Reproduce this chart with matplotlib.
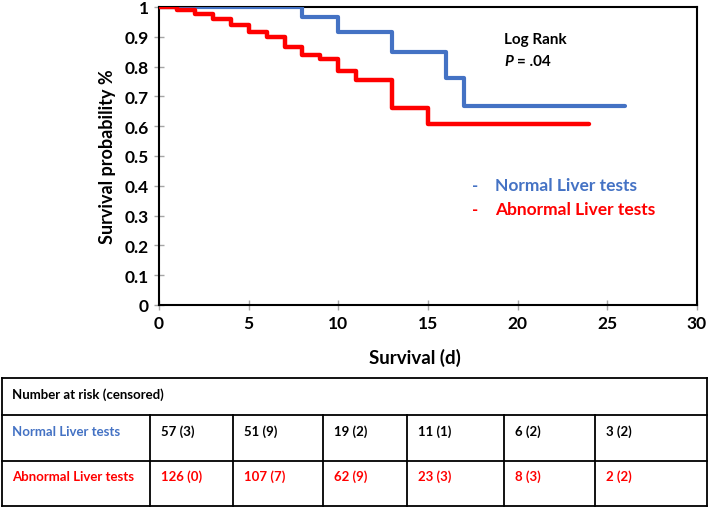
import matplotlib
matplotlib.use("Agg")
import matplotlib.pyplot as plt
from matplotlib.lines import Line2D

plt.rcParams['font.family'] = ['Lato', 'DejaVu Sans']
plt.rcParams['font.weight'] = 'bold'

# ---- data ----
normal_times = [0, 8, 10, 13, 16, 17, 26]
normal_surv = [1.0, 0.966, 0.916, 0.849, 0.762, 0.668, 0.668]
abnormal_times = [0, 1, 2, 3, 4, 5, 6, 7, 8, 9, 10, 11, 13, 15, 24]
abnormal_surv = [1.0, 0.99, 0.977, 0.96, 0.94, 0.917, 0.90, 0.867, 0.84,
                 0.826, 0.786, 0.755, 0.662, 0.607, 0.607]
x_ticks = [0, 5, 10, 15, 20, 25, 30]
y_ticks = [0, 0.1, 0.2, 0.3, 0.4, 0.5, 0.6, 0.7, 0.8, 0.9, 1]
y_tick_labels = ['0', '0.1', '0.2', '0.3', '0.4', '0.5', '0.6', '0.7', '0.8', '0.9', '1']
series_names = ['Normal Liver tests', 'Abnormal Liver tests']
normal_at_risk = [57, 51, 19, 11, 6, 3]
normal_censored = [3, 9, 2, 1, 2, 2]
abnormal_at_risk = [126, 107, 62, 23, 8, 2]
abnormal_censored = [0, 7, 9, 3, 3, 2]

BLUE = '#4472C4'
RED = '#FF0000'

W, H = 709, 510
fig = plt.figure(figsize=(W / 100, H / 100), dpi=100)

def fx(px):
    return px / W

def fy(py):
    return 1 - py / H

ax = fig.add_axes([fx(159), fy(306), fx(697) - fx(159), fy(8) - fy(306)])
ax.step(normal_times, normal_surv, where='post', color=BLUE, lw=3.0,
        solid_capstyle='round', zorder=3)
ax.step(abnormal_times, abnormal_surv, where='post', color=RED, lw=3.2,
        solid_capstyle='round', zorder=3)
ax.set_xlim(0, 30)
ax.set_ylim(0, 1)
ax.set_xticks(x_ticks)
ax.set_xticklabels([str(t) for t in x_ticks])
ax.set_yticks(y_ticks)
ax.set_yticklabels(y_tick_labels)
for s in ax.spines.values():
    s.set_linewidth(1.5)
    s.set_color('black')
ax.tick_params(axis='both', direction='inout', length=7, width=1,
               color='#A6A6A6', labelsize=12.5, pad=4)
for lab in ax.get_xticklabels() + ax.get_yticklabels():
    lab.set_fontweight('bold')
ax.set_xlabel('Survival (d)', fontsize=13.5, fontweight='bold')
ax.xaxis.set_label_coords((414.5 - 159) / 538, -(358 - 306) / 298)
ax.xaxis.label.set_va('center')
ax.set_ylabel('Survival probability %', fontsize=13, fontweight='bold')
ax.yaxis.set_label_coords(-(159 - 107) / 538, 0.5)
ax.yaxis.label.set_va('center')

ax.text(19.25, 0.893, 'Log Rank', fontsize=11, fontweight='bold', va='center', ha='left')
ax.text(19.25, 0.819, 'P', fontsize=11, fontweight='bold', style='italic', va='center', ha='left')
ax.text(19.95, 0.819, '= .04', fontsize=11, fontweight='bold', va='center', ha='left')

ax.text(17.6, 0.403, '-', fontsize=12, fontweight='bold', color=BLUE, va='center', ha='center')
ax.text(18.75, 0.403, series_names[0], fontsize=12.5, fontweight='bold', color=BLUE, va='center', ha='left')
ax.text(17.6, 0.322, '-', fontsize=12, fontweight='bold', color=RED, va='center', ha='center')
ax.text(18.75, 0.322, series_names[1], fontsize=12.5, fontweight='bold', color=RED, va='center', ha='left')

# ---- table ----
col_edges = [2, 150, 233, 323, 407, 504, 595, 707]
row_edges = [379, 416, 462, 507]
lw = 1.3
def hline(py, x0, x1):
    fig.add_artist(Line2D([fx(x0), fx(x1)], [fy(py), fy(py)], color='black', lw=lw))
def vline(px, y0, y1):
    fig.add_artist(Line2D([fx(px), fx(px)], [fy(y0), fy(y1)], color='black', lw=lw))
for r in row_edges:
    hline(r, col_edges[0], col_edges[-1])
vline(col_edges[0], row_edges[0], row_edges[-1])
vline(col_edges[-1], row_edges[0], row_edges[-1])
for c in col_edges[1:-1]:
    vline(c, row_edges[1], row_edges[-1])

fig.text(fx(12), fy(395), 'Number at risk (censored)', fontsize=9.5, fontweight='bold',
         va='center', ha='left')
rows = [(series_names[0], normal_at_risk, normal_censored, BLUE, 'black', 432),
        (series_names[1], abnormal_at_risk, abnormal_censored, RED, RED, 477)]
for name, nr, nc, lc, vc, py in rows:
    fig.text(fx(12), fy(py), name, fontsize=9.5, fontweight='bold', color=lc,
             va='center', ha='left')
    for i, (n, c) in enumerate(zip(nr, nc)):
        fig.text(fx(col_edges[i + 1] + 11), fy(py), f'{n} ({c})', fontsize=9.5,
                 fontweight='bold', color=vc, va='center', ha='left')

fig.savefig('out.png', dpi=100)
